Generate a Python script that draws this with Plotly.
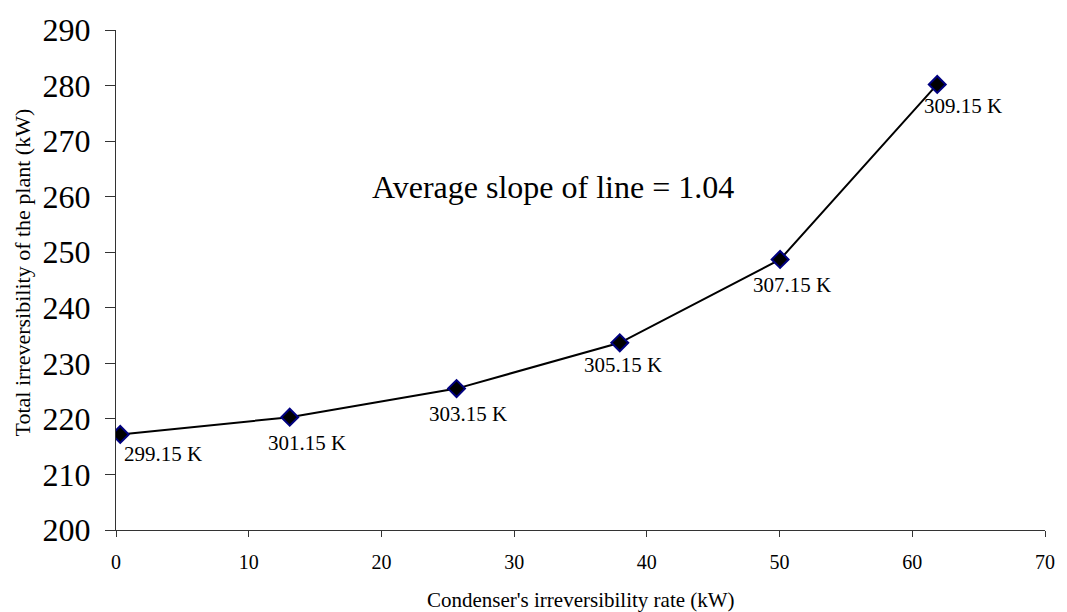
import plotly.graph_objects as go

# Data
condenser_irr = [0.32, 13.09, 25.66, 37.96, 50.04, 61.88]
total_irr = [217.2, 220.3, 225.45, 233.7, 248.7, 280.2]
temp_labels = ["299.15 K", "301.15 K", "303.15 K", "305.15 K", "307.15 K", "309.15 K"]
label_dx = [43, 17, 11, 3, 12, 26]
label_dy = [-20, -26, -25, -22, -26, -22]
x_ticks = [0, 10, 20, 30, 40, 50, 60, 70]
y_ticks = [200, 210, 220, 230, 240, 250, 260, 270, 280, 290]

FONT = "Liberation Serif, Times New Roman, serif"

fig = go.Figure()
fig.add_trace(go.Scatter(
    x=condenser_irr, y=total_irr, mode="lines+markers",
    line=dict(color="black", width=2),
    marker=dict(symbol="diamond", size=13, color="black",
                line=dict(color="#000080", width=2)),
    showlegend=False, hoverinfo="skip",
))

for xv, yv, t, dx, dy in zip(condenser_irr, total_irr, temp_labels, label_dx, label_dy):
    fig.add_annotation(x=xv, y=yv, xref="x", yref="y", text=t, showarrow=False,
                       xshift=dx, yshift=dy,
                       font=dict(family=FONT, size=21, color="black"))

fig.add_annotation(x=32.9, y=261.8, xref="x", yref="y",
                   text="Average slope of line = 1.04", showarrow=False,
                   font=dict(family=FONT, size=32, color="black"))

# axis titles
fig.add_annotation(x=0.5, y=0, xref="paper", yref="paper", yshift=-70,
                   xanchor="center", yanchor="middle",
                   text="Condenser's irreversibility rate (kW)", showarrow=False,
                   font=dict(family=FONT, size=21, color="black"))
fig.add_annotation(x=0, y=0.515, xref="paper", yref="paper", xshift=-94,
                   xanchor="center", yanchor="middle", textangle=-90,
                   text="Total irreversibility of the plant (kW)", showarrow=False,
                   font=dict(family=FONT, size=22, color="black"))

fig.update_layout(
    width=1067, height=612,
    margin=dict(l=116, r=14, t=23, b=82),
    paper_bgcolor="white", plot_bgcolor="white",
    font=dict(family=FONT, color="black"),
)
fig.update_xaxes(
    range=[0, 70], tickvals=x_ticks, showgrid=False, zeroline=False,
    showline=True, linecolor="#333333", linewidth=1,
    ticks="outside", ticklen=6, tickcolor="#333333",
    ticklabelstandoff=8,
    tickfont=dict(family=FONT, size=20, color="black"),
)
fig.update_yaxes(
    range=[200, 290], tickvals=y_ticks, showgrid=False, zeroline=False,
    showline=True, linecolor="#333333", linewidth=1,
    ticks="outside", ticklen=10, tickcolor="#333333",
    ticklabelstandoff=8,
    tickfont=dict(family=FONT, size=32, color="black"),
)

fig.write_html("out.html")
